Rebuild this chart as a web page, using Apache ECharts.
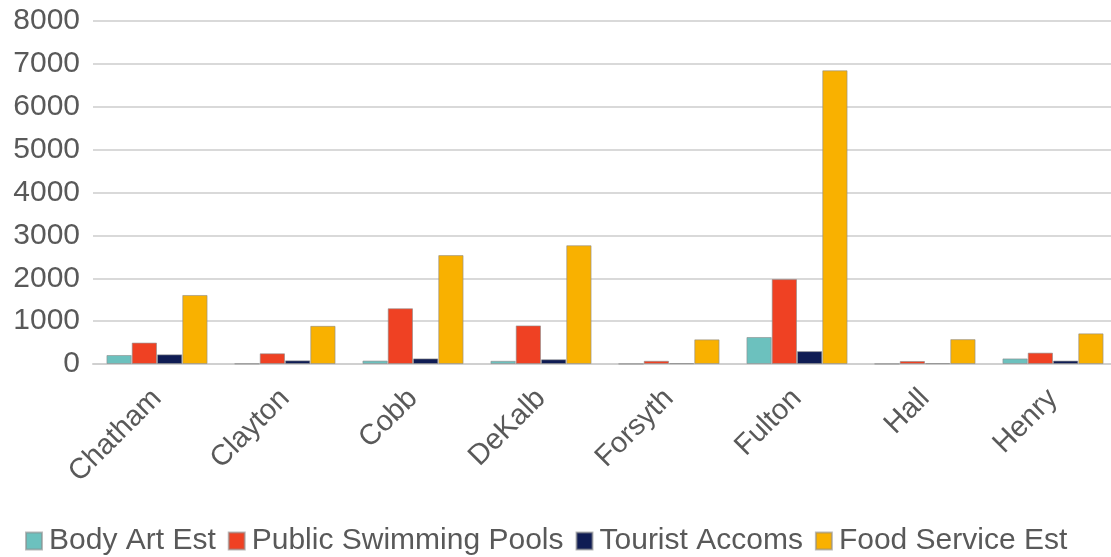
<!DOCTYPE html>
<html>
<head>
<meta charset="utf-8">
<script src="https://cdn.jsdelivr.net/npm/echarts@6/dist/echarts.min.js"></script>
<style>
html, body { margin: 0; padding: 0; background: #fff; }
#chart { width: 1111px; height: 557px; }
</style>
</head>
<body>
<div id="chart"></div>
<script>
var counties = ['Chatham', 'Clayton', 'Cobb', 'DeKalb', 'Forsyth', 'Fulton', 'Hall', 'Henry'];
var bodyArt = [210, 10, 80, 75, 5, 630, 5, 130];
var pools = [500, 250, 1300, 900, 75, 1980, 70, 265];
var tourist = [225, 85, 130, 110, 20, 300, 20, 80];
var food = [1610, 890, 2540, 2770, 575, 6850, 580, 715];
var yTicks = [0, 8000, 1000];

var dom = document.getElementById("chart");
var myChart = echarts.init(dom);

function barSeries(name, data, color) {
    return {
        name: name,
        type: 'bar',
        data: data,
        barGap: '0%',
        barCategoryGap: '21%',
        itemStyle: {
            color: color,
            borderColor: 'rgba(140,140,140,0.6)',
            borderWidth: 1
        }
    };
}

var option = {
    animation: false,
    color: ['#6CC1BE', '#EF4123', '#0F1C54', '#F9B100'],
    grid: {
        left: 93,
        top: 21,
        width: 1024,
        height: 343,
        outerBoundsMode: 'none',
        containLabel: false
    },
    legend: {
        left: 20,
        top: 521,
        itemWidth: 16,
        itemHeight: 17,
        itemGap: 12,
        icon: 'rect',
        textStyle: {
            fontFamily: 'Liberation Sans',
            fontSize: 30,
            color: '#595959',
            padding: [0, 0, 0, 2]
        }
    },
    xAxis: {
        type: 'category',
        data: counties,
        axisTick: { show: false },
        axisLine: { lineStyle: { color: '#d0d0d0', width: 2 } },
        axisLabel: {
            rotate: 45,
            margin: 30,
            fontFamily: 'Liberation Sans',
            fontSize: 29,
            color: '#595959'
        }
    },
    yAxis: {
        type: 'value',
        min: yTicks[0],
        max: yTicks[1],
        interval: yTicks[2],
        axisTick: { show: false },
        axisLine: { show: false },
        splitLine: { lineStyle: { color: '#d9d9d9', width: 2 } },
        axisLabel: {
            margin: 13,
            fontFamily: 'Liberation Sans',
            fontSize: 30,
            color: '#595959',
            formatter: function (v) { return String(v); }
        }
    },
    series: [
        barSeries('Body Art Est', bodyArt, '#6CC1BE'),
        barSeries('Public Swimming Pools', pools, '#EF4123'),
        barSeries('Tourist Accoms', tourist, '#0F1C54'),
        barSeries('Food Service Est', food, '#F9B100')
    ]
};

if (option && typeof option === "object") {
    myChart.setOption(option, true);
}
</script>
</body>
</html>
